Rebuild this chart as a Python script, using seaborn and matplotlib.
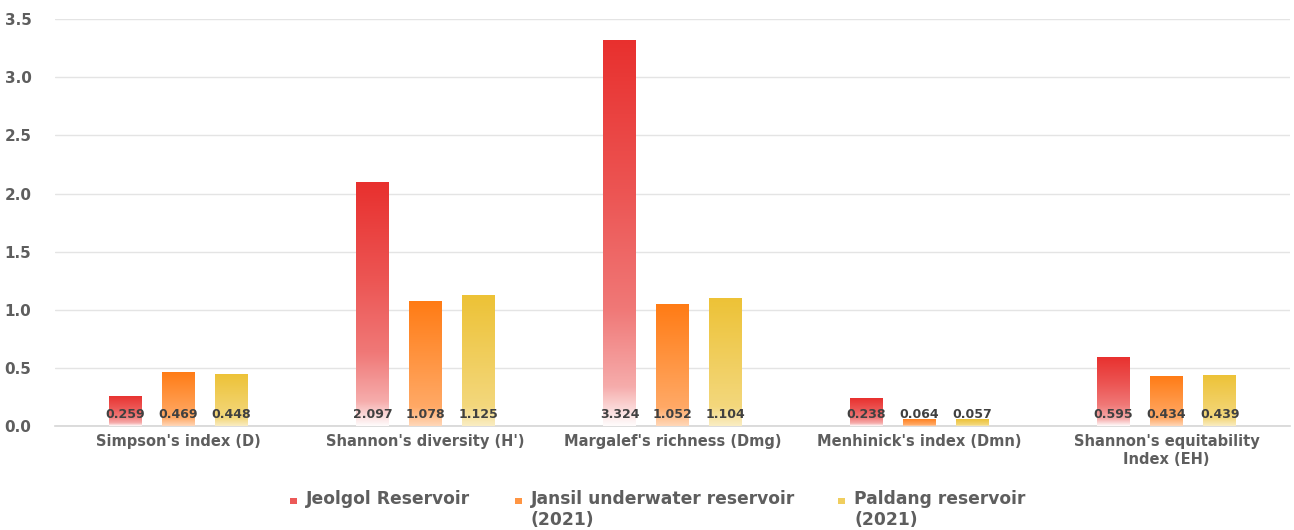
import numpy as np
import pandas as pd
import matplotlib
matplotlib.use("Agg")
import matplotlib.pyplot as plt
import seaborn as sns
from matplotlib.patches import Rectangle
from matplotlib.colors import to_rgb

# Diversity indices per reservoir
indices = ["Simpson's index (D)", "Shannon's diversity (H')", "Margalef's richness (Dmg)",
           "Menhinick's index (Dmn)", "Shannon's equitability\nIndex (EH)"]
jeolgol = [0.259, 2.097, 3.324, 0.238, 0.595]
jansil = [0.469, 1.078, 1.052, 0.064, 0.434]
paldang = [0.448, 1.125, 1.104, 0.057, 0.439]
series = ["Jeolgol Reservoir", "Jansil underwater reservoir\n(2021)", "Paldang reservoir\n(2021)"]
colors = ["#E8302E", "#FF7B14", "#EDC236"]
y_ticks = [0.0, 0.5, 1.0, 1.5, 2.0, 2.5, 3.0, 3.5]

df = pd.DataFrame({
    "index": indices * 3,
    "value": jeolgol + jansil + paldang,
    "site": [series[0]] * 5 + [series[1]] * 5 + [series[2]] * 5,
})

sns.set_style("white")
plt.rcParams["font.family"] = ["DejaVu Sans"]
TEXT = "#5E5E5E"

W, H = 1294, 530
fig = plt.figure(figsize=(W / 100, H / 100), dpi=100)
ax = fig.add_axes([0.0425, 0.196, 0.9545, 0.768])

sns.barplot(data=df, x="index", y="value", hue="site", hue_order=series,
            palette=colors, order=indices, width=0.645, gap=0.38,
            legend=False, ax=ax, zorder=3)

# vertical fade: full colour at the top, washed out toward the base
fades = [
    np.array([[0.0, 0.02], [0.1, 0.4], [0.3, 0.65], [0.6, 0.82], [1.0, 1.0]]),
    np.array([[0.0, 0.3], [0.15, 0.65], [1.0, 1.0]]),
    np.array([[0.0, 0.3], [0.15, 0.65], [1.0, 1.0]]),
]
n = 256
t = np.linspace(0, 1, n)
for container, col, fade in zip(ax.containers, colors, fades):
    rgb = np.array(to_rgb(col))
    mix = np.interp(t, fade[:, 0], fade[:, 1])
    img = np.ones((n, 1, 3))
    img[:, 0, :] = 1 - mix[:, None] * (1 - rgb[None, :])
    for bar in container:
        x, w, h = bar.get_x(), bar.get_width(), bar.get_height()
        bar.set_facecolor("none")
        bar.set_edgecolor("none")
        im = ax.imshow(img, extent=[x, x + w, 0, h], origin="lower",
                       aspect="auto", zorder=3, interpolation="bilinear")
        im.set_clip_path(bar)
        ax.text(x + w / 2, 0.1, f"{h:.3f}", ha="center", va="center",
                fontsize=9, fontweight="bold", color="#404040", zorder=5)

ax.set_xlim(-0.5, 4.5)
ax.set_ylim(0, 3.5)
ax.set_yticks(y_ticks)
ax.set_yticklabels([f"{v:.1f}" for v in y_ticks], fontsize=11, fontweight="bold", color=TEXT)
ax.tick_params(axis="y", pad=17, length=0)
ax.tick_params(axis="x", length=0, pad=6)
for lbl in ax.get_xticklabels():
    lbl.set_fontsize(10.5)
    lbl.set_fontweight("bold")
    lbl.set_color(TEXT)
ax.set_xlabel("")
ax.set_ylabel("")
ax.yaxis.grid(True, color="#E4E4E4", linewidth=1, zorder=0)
ax.set_axisbelow(True)
for side in ["left", "right", "top"]:
    ax.spines[side].set_visible(False)
ax.spines["bottom"].set_color("#D6D6D6")
ax.spines["bottom"].set_linewidth(1.2)

# legend row under the chart: square key + top-aligned (possibly wrapped) label
key_x = [290, 515, 838]
for kx, col, name in zip(key_x, colors, series):
    fig.patches.append(Rectangle((kx / W, 1 - 504 / H), 7 / W, 6 / H,
                                 transform=fig.transFigure, facecolor=col,
                                 alpha=0.8, edgecolor="none"))
    fig.text((kx + 16) / W, 1 - 490 / H, name, ha="left", va="top",
             fontsize=12.3, fontweight="bold", color=TEXT, linespacing=1.2)

fig.savefig("out.png", dpi=100, facecolor="white")
